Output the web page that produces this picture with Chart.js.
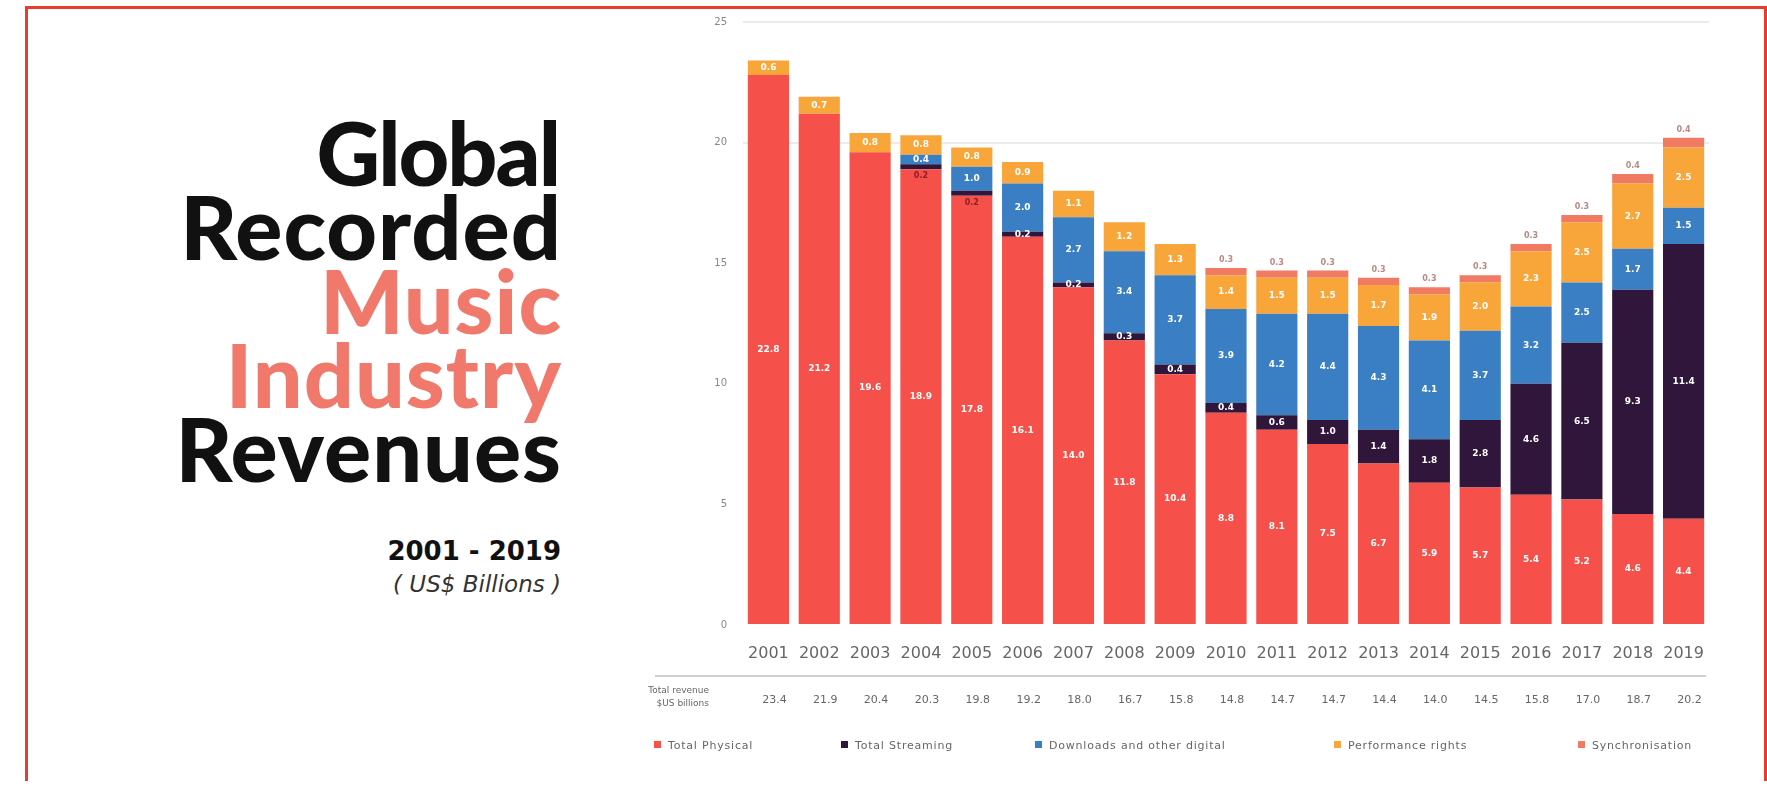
<!DOCTYPE html>
<html>
<head>
<meta charset="utf-8">
<script src="https://cdn.jsdelivr.net/npm/chart.js"></script>
<style>
  html, body { margin: 0; padding: 0; background: #fff; }
  body { width: 1767px; height: 791px; position: relative; overflow: hidden; font-family: Lato, sans-serif; }
  .frame { position: absolute; left: 25px; top: 6px; width: 1736px; height: 772px; border: 3px solid #ea3b30; border-bottom: none; }
  .title { position: absolute; right: 1206px; top: 115px; text-align: right; font-weight: 900; font-size: 88px; line-height: 74px; color: #111; white-space: nowrap; }
  .title span { display: block; letter-spacing: 1px; margin-right: -1px; }
  .title .tight { letter-spacing: -2px; margin-right: 2px; }
  .title .hl { color: #f0796b; }
  .period { position: absolute; right: 1206px; top: 536px; font-family: 'DejaVu Sans', sans-serif; font-weight: bold; font-size: 26px; line-height: 30px; color: #111; white-space: nowrap; }
  .unit { position: absolute; right: 1206px; top: 570px; font-family: 'DejaVu Sans', sans-serif; font-style: italic; font-size: 23px; line-height: 28px; color: #333; white-space: nowrap; }
  #chartBox { position: absolute; left: 640px; top: 0; width: 1080px; height: 780px; }
  .legend-item { position: absolute; top: 739px; font-family: 'DejaVu Sans', sans-serif; font-size: 11px; letter-spacing: 0.8px; line-height: 14px; color: #666; white-space: nowrap; }
  .legend-item i { display: inline-block; width: 7px; height: 7px; margin-right: 7px; vertical-align: 1px; }
</style>
</head>
<body>
<div class="frame"></div>

<div class="title"><span class="tight">Global</span><span>Recorded</span><span class="hl">Music</span><span class="hl">Industry</span><span>Revenues</span></div>
<div class="period">2001 - 2019</div>
<div class="unit">( US$ Billions )</div>

<div id="chartBox"><canvas id="revChart" width="1080" height="780"></canvas></div>
<div id="legend"></div>

<script>
  const years = ['2001', '2002', '2003', '2004', '2005', '2006', '2007', '2008', '2009', '2010',
                 '2011', '2012', '2013', '2014', '2015', '2016', '2017', '2018', '2019'];

  // US$ billions per revenue stream
  const physical    = [22.8, 21.2, 19.6, 18.9, 17.8, 16.1, 14.0, 11.8, 10.4, 8.8, 8.1, 7.5, 6.7, 5.9, 5.7, 5.4, 5.2, 4.6, 4.4];
  const streaming   = [0, 0, 0, 0.2, 0.2, 0.2, 0.2, 0.3, 0.4, 0.4, 0.6, 1.0, 1.4, 1.8, 2.8, 4.6, 6.5, 9.3, 11.4];
  const downloads   = [0, 0, 0, 0.4, 1.0, 2.0, 2.7, 3.4, 3.7, 3.9, 4.2, 4.4, 4.3, 4.1, 3.7, 3.2, 2.5, 1.7, 1.5];
  const performance = [0.6, 0.7, 0.8, 0.8, 0.8, 0.9, 1.1, 1.2, 1.3, 1.4, 1.5, 1.5, 1.7, 1.9, 2.0, 2.3, 2.5, 2.7, 2.5];
  const syncRights  = [0, 0, 0, 0, 0, 0, 0, 0, 0, 0.3, 0.3, 0.3, 0.3, 0.3, 0.3, 0.3, 0.3, 0.4, 0.4];

  const seriesNames  = ['Total Physical', 'Total Streaming', 'Downloads and other digital', 'Performance rights', 'Synchronisation'];
  const seriesColors = ['#f5504a', '#30163a', '#3a7ec4', '#f8a53a', '#f07a62'];
  const yTicks = [0, 5, 10, 15, 20, 25];

  const seriesData = [physical, streaming, downloads, performance, syncRights];
  const totals = years.map((_, i) => seriesData.reduce((s, arr) => s + arr[i], 0));

  // labels inside each stacked segment
  const segLabels = {
    id: 'segLabels',
    afterDatasetsDraw(chart) {
      const ctx = chart.ctx;
      ctx.save();
      ctx.textAlign = 'center';
      ctx.textBaseline = 'middle';
      chart.data.datasets.forEach((ds, di) => {
        const meta = chart.getDatasetMeta(di);
        meta.data.forEach((bar, i) => {
          const v = ds.data[i];
          if (!v) return;
          const txt = v.toFixed(1);
          if (di === 4) {
            ctx.font = 'bold 8px "DejaVu Sans"';
            ctx.fillStyle = '#b98a84';
            ctx.fillText(txt, bar.x, bar.y - 8);
          } else if (di === 1 && i < 5) {
            // thin early streaming bands: value sits just under the band
            ctx.font = 'bold 8px "DejaVu Sans"';
            ctx.fillStyle = '#8e1f22';
            ctx.fillText(txt, bar.x, bar.base + 7);
          } else {
            ctx.font = 'bold 9px "DejaVu Sans"';
            ctx.fillStyle = '#ffffff';
            ctx.fillText(txt, bar.x, (bar.y + bar.base) / 2);
          }
        });
      });
      ctx.restore();
    }
  };

  // total revenue row under the year axis
  const totalsRow = {
    id: 'totalsRow',
    afterDraw(chart) {
      const ctx = chart.ctx;
      const xs = chart.scales.x;
      ctx.save();
      ctx.strokeStyle = '#cfcfcf';
      ctx.lineWidth = 2;
      ctx.beginPath();
      ctx.moveTo(15, 676);
      ctx.lineTo(1066, 676);
      ctx.stroke();

      ctx.fillStyle = '#666';
      ctx.font = '9px "DejaVu Sans"';
      ctx.textAlign = 'right';
      ctx.textBaseline = 'middle';
      ctx.fillText('Total revenue', 69, 691);
      ctx.fillText('$US billions', 69, 704);

      ctx.font = '11px "DejaVu Sans"';
      ctx.textAlign = 'center';
      totals.forEach((t, i) => {
        ctx.fillText(t.toFixed(1), xs.getPixelForValue(i) + 6, 700);
      });
      ctx.restore();
    }
  };

  new Chart(document.getElementById('revChart'), {
    type: 'bar',
    data: {
      labels: years,
      datasets: seriesData.map((arr, k) => ({
        label: seriesNames[k],
        data: arr,
        backgroundColor: seriesColors[k],
        borderWidth: 0,
        barPercentage: 0.81,
        categoryPercentage: 1
      }))
    },
    options: {
      responsive: false,
      devicePixelRatio: 1,
      animation: false,
      layout: { padding: { top: 17, right: 11, left: 0, bottom: 0 } },
      scales: {
        x: {
          stacked: true,
          grid: { display: false },
          border: { display: false },
          ticks: { color: '#666', font: { family: 'DejaVu Sans', size: 16 }, padding: 11, maxRotation: 0 },
          afterFit: (s) => { s.height = 155; }
        },
        y: {
          stacked: true,
          min: 0,
          max: 25,
          afterBuildTicks: (s) => { s.ticks = yTicks.map(v => ({ value: v })); },
          ticks: { color: '#888', font: { family: 'DejaVu Sans', size: 10 }, padding: 16 },
          grid: {
            drawTicks: false,
            lineWidth: 2,
            color: (c) => (c.tick && c.tick.value >= 20 ? '#ebebeb' : 'rgba(0,0,0,0)')
          },
          border: { display: false },
          afterFit: (s) => { s.width = 103; }
        }
      },
      plugins: {
        legend: { display: false },
        tooltip: { enabled: false }
      }
    },
    plugins: [segLabels, totalsRow]
  });

  // legend row along the bottom
  const legendX = [654, 841, 1035, 1334, 1578];
  const legendBox = document.getElementById('legend');
  seriesNames.forEach((name, k) => {
    const item = document.createElement('div');
    item.className = 'legend-item';
    item.style.left = legendX[k] + 'px';
    item.innerHTML = '<i style="background:' + seriesColors[k] + '"></i>' + name;
    legendBox.appendChild(item);
  });
</script>
</body>
</html>
